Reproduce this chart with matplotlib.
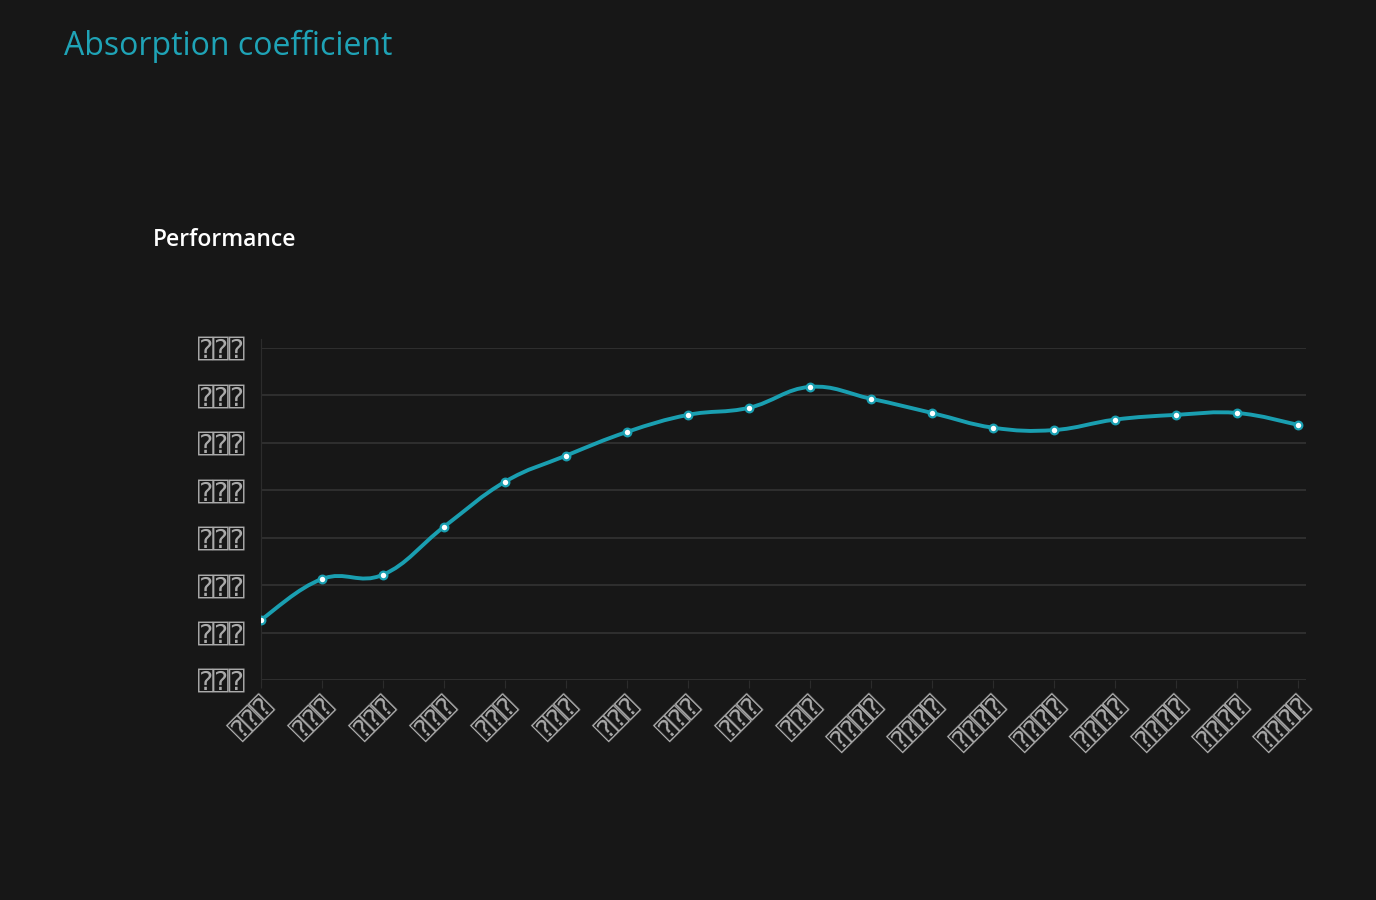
import matplotlib
matplotlib.use("Agg")
import matplotlib.pyplot as plt
from matplotlib.path import Path
from matplotlib.patches import PathPatch
import numpy as np

# данные
x_labels = ["⍰⍰⍰"] * 10 + ["⍰⍰⍰⍰"] * 8
y_ticks = [0, 10, 20, 30, 40, 50, 60, 70]
y_labels = ["⍰⍰⍰"] * 8
values = [12.7, 21.3, 22.2, 32.3, 41.8, 47.3, 52.3, 55.9, 57.4, 61.8,
          59.3, 56.3, 53.2, 52.7, 54.9, 55.9, 56.3, 53.8]

bg = "#171717"
teal = "#1a9fb1"

fig = plt.figure(figsize=(13.76, 9), dpi=100, facecolor=bg)
ax = fig.add_axes([261 / 1376, 1 - 680 / 900, (1306 - 261) / 1376, (680 - 348) / 900])
ax.set_facecolor(bg)

xs = np.arange(len(values))
ys = np.array(values)

# сглаженная кривая как в chart.js (tension 0.4)
t = 0.4
verts = [(xs[0], ys[0])]
codes = [Path.MOVETO]
for i in range(len(xs) - 1):
    p0 = (xs[max(i - 1, 0)], ys[max(i - 1, 0)])
    p1 = (xs[i], ys[i])
    p2 = (xs[i + 1], ys[i + 1])
    p3 = (xs[min(i + 2, len(xs) - 1)], ys[min(i + 2, len(xs) - 1)])
    c1 = (p1[0] + (p2[0] - p0[0]) * t / 2, p1[1] + (p2[1] - p0[1]) * t / 2)
    c2 = (p2[0] - (p3[0] - p1[0]) * t / 2, p2[1] - (p3[1] - p1[1]) * t / 2)
    verts += [c1, c2, p2]
    codes += [Path.CURVE4] * 3
ax.add_patch(PathPatch(Path(verts, codes), facecolor="none", edgecolor=teal, lw=2.8, zorder=3))
ax.plot(xs, ys, ls="none", marker="o", ms=5.5, mfc="white", mec=teal, mew=1.6, zorder=4)

mono = ["DejaVu Sans Mono", "DejaVu Sans"]
ax.set_xlim(0, 17.13)
ax.set_ylim(0, 70)
ax.set_yticks(y_ticks)
ax.set_yticklabels(y_labels, family=mono, fontsize=19, color="#aaaaaa")
ax.set_xticks(xs)
ax.set_xticklabels(x_labels, family=mono, fontsize=19, color="#aaaaaa",
                   rotation=45, ha="right", rotation_mode="anchor")
ax.tick_params(axis="y", length=10, color=bg, pad=1)
ax.tick_params(axis="x", length=6, color="#2c2c2c", pad=3)
ax.grid(axis="y", color="#333333", lw=1.2)
for s in ["top", "right", "bottom"]:
    ax.spines[s].set_visible(False)
ax.spines["left"].set_color("#2c2c2c")
ax.spines["left"].set_bounds(0, 72)

fig.text(64 / 1376, 1 - 46 / 900, "Absorption coefficient", color="#1fa3b6", fontsize=23,
         family="Open Sans", va="center", ha="left")
fig.text(153 / 1376, 1 - 240 / 900, "Performance", color="white", fontsize=16.5,
         family="Open Sans", weight="semibold", va="center", ha="left")

fig.savefig("out.png", facecolor=bg)
